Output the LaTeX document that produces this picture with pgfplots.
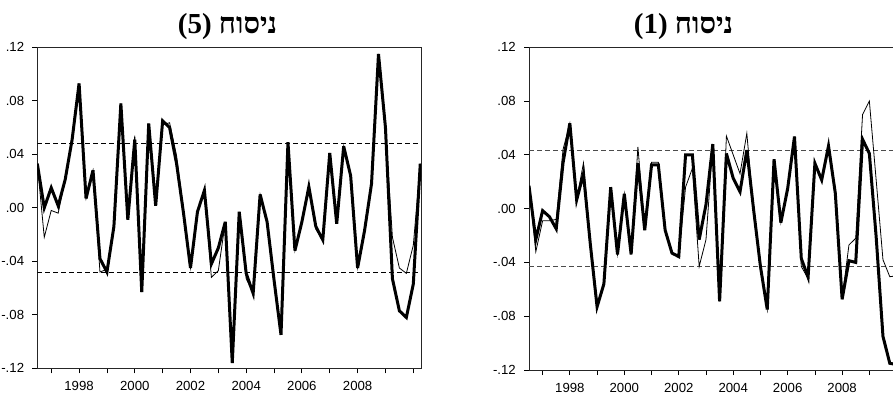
\documentclass[border=0pt]{standalone}
\usepackage{fontspec}
\setmainfont{Liberation Sans}
\newfontfamily\hebfont[Script=Hebrew]{Liberation Serif}
\TeXXeTstate=1
\usepackage{pgfplots}
\usepackage{pgfplotstable}
\pgfplotsset{compat=1.18}

% Left panel: model (5) -- columns: quarter (decimal year), thick series, thin series
\pgfplotstableread{
x       a        b
1996.50 0.033    0.033
1996.75 0.000   -0.022
1997.00 0.015   -0.002
1997.25 0.0015  -0.004
1997.50 0.021    0.021
1997.75 0.051    0.051
1998.00 0.093    0.093
1998.25 0.007    0.007
1998.50 0.028    0.028
1998.75 -0.038  -0.048
1999.00 -0.048  -0.046
1999.25 -0.014  -0.014
1999.50 0.078    0.078
1999.75 -0.009  -0.009
2000.00 0.051    0.054
2000.25 -0.063  -0.063
2000.50 0.063    0.063
2000.75 0.0015   0.0015
2001.00 0.065    0.062
2001.25 0.060    0.0636
2001.50 0.033    0.039
2001.75 -0.004  -0.002
2002.00 -0.045  -0.045
2002.25 -0.003  -0.003
2002.50 0.013    0.013
2002.75 -0.042  -0.052
2003.00 -0.030  -0.047
2003.25 -0.0105 -0.0105
2003.50 -0.116  -0.116
2003.75 -0.003  -0.003
2004.00 -0.049  -0.053
2004.25 -0.064  -0.064
2004.50 0.010    0.010
2004.75 -0.0105 -0.0105
2005.00 -0.054  -0.054
2005.25 -0.095  -0.095
2005.50 0.049    0.049
2005.75 -0.032  -0.032
2006.00 -0.0105 -0.0105
2006.25 0.0157   0.0157
2006.50 -0.014  -0.016
2006.75 -0.024  -0.024
2007.00 0.041    0.041
2007.25 -0.012  -0.012
2007.50 0.046    0.046
2007.75 0.024    0.024
2008.00 -0.045  -0.045
2008.25 -0.017  -0.017
2008.50 0.018    0.018
2008.75 0.115    0.115
2009.00 0.060    0.060
2009.25 -0.053  -0.022
2009.50 -0.077  -0.045
2009.75 -0.082  -0.049
2010.00 -0.057  -0.028
2010.25 0.033    0.033
}\tableL

% Right panel: model (1)
\pgfplotstableread{
x       a        b
1996.50 0.017    0.017
1996.75 -0.023  -0.032
1997.00 -0.0015 -0.009
1997.25 -0.006  -0.009
1997.50 -0.015  -0.008
1997.75 0.034    0.044
1998.00 0.0635   0.0635
1998.25 0.0065   0.0065
1998.50 0.026    0.034
1998.75 -0.026  -0.026
1999.00 -0.073  -0.073
1999.25 -0.056  -0.056
1999.50 0.016    0.016
1999.75 -0.034  -0.034
2000.00 0.011    0.011
2000.25 -0.034  -0.034
2000.50 0.034    0.046
2000.75 -0.016  -0.016
2001.00 0.0325   0.0345
2001.25 0.0325   0.0345
2001.50 -0.016  -0.016
2001.75 -0.033  -0.034
2002.00 -0.0357 -0.0357
2002.25 0.040    0.016
2002.50 0.040    0.030
2002.75 -0.023  -0.043
2003.00 0.003   -0.023
2003.25 0.048    0.048
2003.50 -0.069  -0.069
2003.75 0.041    0.054
2004.00 0.0226   0.040
2004.25 0.0126   0.026
2004.50 0.0436   0.056
2004.75 -0.001  -0.001
2005.00 -0.043  -0.043
2005.25 -0.075  -0.075
2005.50 0.0367   0.0367
2005.75 -0.0104 -0.0104
2006.00 0.015    0.015
2006.25 0.0536   0.0536
2006.50 -0.037  -0.043
2006.75 -0.051  -0.052
2007.00 0.0337   0.0337
2007.25 0.0213   0.0213
2007.50 0.0466   0.0466
2007.75 0.0114   0.0114
2008.00 -0.0674 -0.0674
2008.25 -0.0387 -0.027
2008.50 -0.040  -0.022
2008.75 0.0516   0.070
2009.00 0.041    0.080
2009.25 -0.021   0.0213
2009.50 -0.095  -0.038
2009.75 -0.115  -0.0506
2010.00 -0.116  -0.050
2010.25 -0.110  -0.045
}\tableR

\pgfplotsset{
  panel/.style={
    scale only axis,
    anchor=south west,
    xmin=1996.5, xmax=2010.28,
    ymin=-0.12, ymax=0.12,
    xtick={1997,1998,...,2010},
    xticklabels={,1998,,2000,,2002,,2004,,2006,,2008,,},
    ytick={-0.12,-0.08,-0.04,0,0.04,0.08,0.12},
    yticklabels={-.12,-.08,-.04,.00,.04,.08,.12},
    xtick pos=lower, ytick pos=left,
    tick align=outside,
    major tick length=5pt,
    tick style={black, line width=0.8pt},
    axis line style={black!85, line width=1pt},
    ticklabel style={font=\fontsize{13.2}{15}\selectfont, inner sep=0pt},
    xticklabel shift=8pt,
    yticklabel shift=8pt,
    clip=true,
  },
  thickser/.style={black, line width=3pt, line join=miter, miter limit=6},
  thinser/.style={black, line width=0.8pt},
}

\begin{document}
\begin{tikzpicture}[x=1pt,y=1pt]
\begin{axis}[panel, at={(37.3pt,25.7pt)}, width=383.8pt, height=321pt]
  \addplot[black, line width=0.9pt, dash pattern=on 5pt off 3pt] coordinates {(1996.5,0.048) (2010.28,0.048)};
  \addplot[black, line width=0.9pt, dash pattern=on 5pt off 3pt] coordinates {(1996.5,-0.048) (2010.28,-0.048)};
  \addplot[thickser] table[x=x, y=a] {\tableL};
  \addplot[thinser] table[x=x, y=b] {\tableL};
\end{axis}
\begin{axis}[panel, at={(529pt,24pt)}, width=375.2pt, height=322.7pt]
  \addplot[black!70, line width=0.9pt, dash pattern=on 5pt off 3pt] coordinates {(1996.5,0.043) (2010.28,0.043)};
  \addplot[black!70, line width=0.9pt, dash pattern=on 5pt off 3pt] coordinates {(1996.5,-0.043) (2010.28,-0.043)};
  \addplot[thickser] table[x=x, y=a] {\tableR};
  \addplot[thinser] table[x=x, y=b] {\tableR};
\end{axis}
\node[anchor=base, inner sep=0pt] at (227.5pt,360pt) {\fontsize{29}{32}\selectfont\bfseries\hebfont\beginR ניסוח \beginL(5)\endL\endR};
\node[anchor=base, inner sep=0pt] at (683.5pt,360pt) {\fontsize{29}{32}\selectfont\bfseries\hebfont\beginR ניסוח \beginL(1)\endL\endR};
\pgfresetboundingbox
\path[use as bounding box] (0pt,0pt) rectangle (893pt,394pt);
\end{tikzpicture}
\end{document}
